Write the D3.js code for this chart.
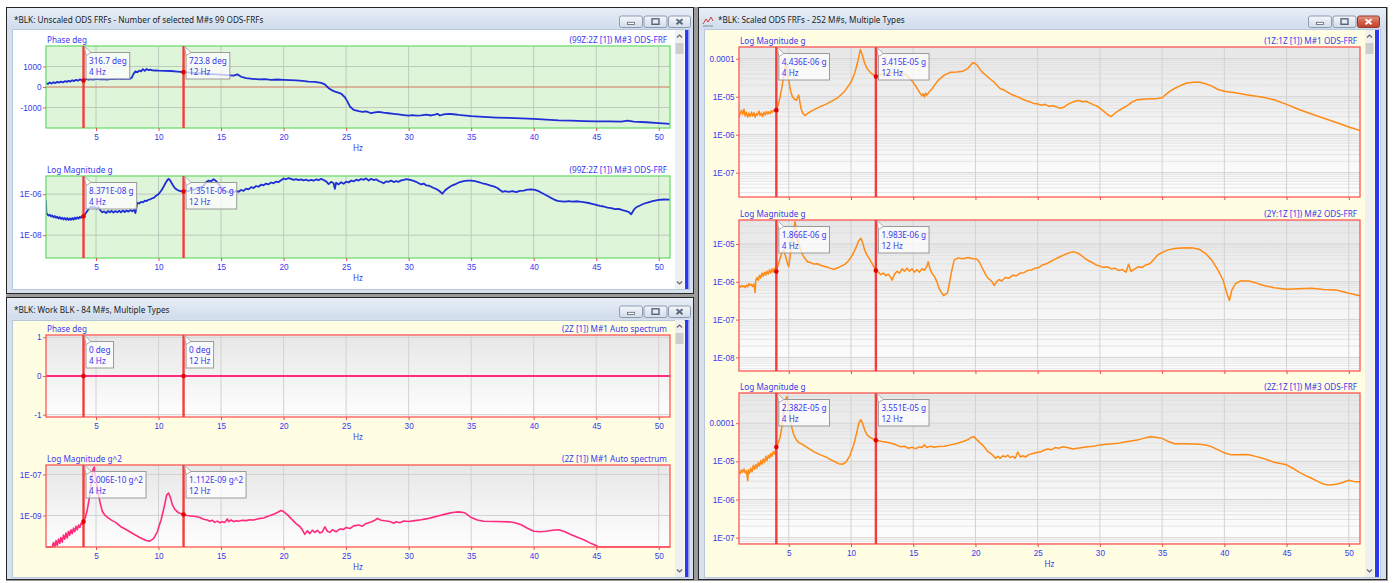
<!DOCTYPE html>
<html><head><meta charset="utf-8">
<script src="https://cdn.jsdelivr.net/npm/d3@7"></script>
<style>
body{margin:0;background:#fff;}
svg{display:block;font-family:"Noto Sans","Open Sans",sans-serif;}
</style></head><body>
<svg id="chart" width="1394" height="583"></svg>
<script>
// ---- data ----------------------------------------------------------
const HZ_RANGE = [1, 50.9];
const HZ_TICKS = [5, 10, 15, 20, 25, 30, 35, 40, 45, 50];
const CURSOR_HZ = [4, 12];

// Unscaled ODS-FRF (99Z:2Z), phase in degrees
const unscaledPhaseDeg = [[1,180],[1.15,150],[1.3,220],[1.45,170],[1.6,235],[1.75,190],[1.9,250],[2.05,215],[2.2,265],[2.35,225],[2.5,285],[2.65,250],[2.8,300],[2.95,265],[3.1,330],[3.25,290],[3.4,350],[3.55,310],[3.7,370],[3.85,335],[4,316.7],[4.2,390],[4.4,355],[4.6,380],[4.8,360],[5,395],[5.3,370],[5.6,390],[5.9,365],[6.2,400],[6.5,380],[6.8,405],[7.1,385],[7.4,400],[7.7,395],[7.85,450],[8,640],[8.15,760],[8.3,720],[8.45,800],[8.6,760],[8.75,870],[8.9,790],[9.05,880],[9.2,820],[9.35,850],[9.5,810],[9.75,805],[10,795],[10.5,790],[11,780],[11.5,755],[12,723.8],[12.5,700],[13,680],[13.5,660],[14,640],[14.5,620],[15,600],[15.5,580],[16,555],[16.3,620],[16.6,500],[17,430],[17.5,400],[18,370],[18.5,385],[19,350],[19.5,365],[20,350],[20.5,340],[21,320],[21.5,300],[22,265],[22.5,250],[23,200],[23.3,130],[23.6,-60],[24,-200],[24.3,-260],[24.6,-320],[24.9,-500],[25.1,-700],[25.3,-950],[25.6,-1120],[26,-1180],[26.3,-1210],[26.6,-1190],[27,-1280],[27.3,-1240],[27.6,-1210],[28,-1250],[28.4,-1280],[28.8,-1310],[29.2,-1340],[29.6,-1370],[30,-1400],[30.3,-1370],[30.6,-1400],[31,-1380],[31.4,-1350],[31.8,-1390],[32.1,-1350],[32.3,-1310],[32.5,-1390],[32.8,-1340],[33.2,-1310],[33.6,-1330],[34,-1360],[35,-1420],[36,-1460],[37,-1490],[38,-1510],[39,-1530],[40,-1550],[41,-1590],[42,-1630],[43,-1640],[44,-1660],[45,-1680],[46,-1680],[47,-1690],[47.5,-1640],[48,-1690],[49,-1720],[50,-1760],[50.9,-1800]];

// Unscaled ODS-FRF (99Z:2Z), magnitude in g
const unscaledLogMag = [[1,5.0e-7],[1.03,1.2e-7],[1.1,1.05e-7],[1.2,9.0e-8],[1.3,1.0e-7],[1.4,8.2e-8],[1.5,9.2e-8],[1.6,7.4e-8],[1.7,8.6e-8],[1.8,7.0e-8],[1.9,8.0e-8],[2,6.4e-8],[2.1,7.6e-8],[2.2,6.2e-8],[2.3,7.2e-8],[2.4,5.8e-8],[2.5,6.9e-8],[2.6,5.6e-8],[2.7,6.8e-8],[2.8,5.5e-8],[2.9,6.6e-8],[3,5.6e-8],[3.1,6.8e-8],[3.2,5.7e-8],[3.3,7.2e-8],[3.4,6.1e-8],[3.5,7.4e-8],[3.6,6.4e-8],[3.7,7.8e-8],[3.8,7.0e-8],[3.9,8.6e-8],[4,8.371e-8],[4.15,1.1e-7],[4.3,1.5e-7],[4.45,2.0e-7],[4.6,2.5e-7],[4.75,2.1e-7],[4.9,2.4e-7],[5.05,2.0e-7],[5.2,2.3e-7],[5.35,1.6e-7],[5.5,1.3e-7],[5.65,1.45e-7],[5.8,1.2e-7],[5.95,1.5e-7],[6.1,1.3e-7],[6.25,1.55e-7],[6.4,1.25e-7],[6.55,1.5e-7],[6.7,1.3e-7],[6.85,1.55e-7],[7,1.3e-7],[7.15,1.6e-7],[7.3,1.35e-7],[7.45,1.6e-7],[7.6,1.4e-7],[7.75,1.7e-7],[7.9,1.45e-7],[8.05,1.75e-7],[8.15,1.2e-7],[8.3,3.8e-7],[8.45,3.5e-7],[8.6,4.2e-7],[8.75,4.0e-7],[8.9,4.8e-7],[9.05,4.6e-7],[9.2,5.4e-7],[9.35,5.6e-7],[9.5,6.3e-7],[9.65,6.8e-7],[9.8,8.4e-7],[9.95,9.5e-7],[10.1,1.2e-6],[10.25,1.6e-6],[10.4,2.3e-6],[10.55,3.4e-6],[10.7,4.8e-6],[10.8,5.6e-6],[10.9,4.9e-6],[11,3.9e-6],[11.15,2.7e-6],[11.3,2.0e-6],[11.45,1.7e-6],[11.6,1.5e-6],[11.8,1.4e-6],[12,1.351e-6],[12.2,1.5e-6],[12.4,1.4e-6],[12.6,1.7e-6],[12.8,1.6e-6],[13,1.9e-6],[13.2,1.8e-6],[13.4,2.3e-6],[13.6,2.6e-6],[13.8,3.8e-6],[14,4.6e-6],[14.2,4.3e-6],[14.4,5.3e-6],[14.6,4.4e-6],[14.8,3.1e-6],[15,2.2e-6],[15.2,1.6e-6],[15.4,1.4e-6],[15.6,1.2e-6],[15.8,1.4e-6],[16,1.25e-6],[16.2,1.45e-6],[16.4,1.3e-6],[16.6,1.6e-6],[16.8,1.45e-6],[17,1.85e-6],[17.2,1.7e-6],[17.4,2.2e-6],[17.6,2.0e-6],[17.8,2.5e-6],[18,2.3e-6],[18.2,2.9e-6],[18.4,2.7e-6],[18.6,3.3e-6],[18.8,3.0e-6],[19,3.7e-6],[19.2,3.4e-6],[19.4,4.1e-6],[19.6,3.9e-6],[19.8,4.8e-6],[20,5.8e-6],[20.2,5.3e-6],[20.4,6.1e-6],[20.6,5.6e-6],[20.8,5.0e-6],[21,5.4e-6],[21.2,4.8e-6],[21.4,5.3e-6],[21.6,4.7e-6],[21.8,5.1e-6],[22,4.5e-6],[22.2,5.0e-6],[22.4,4.6e-6],[22.6,5.2e-6],[22.8,4.8e-6],[23,5.6e-6],[23.2,4.9e-6],[23.4,4.2e-6],[23.6,3.1e-6],[23.8,4.0e-6],[24,3.4e-6],[24.1,1.8e-6],[24.2,3.6e-6],[24.4,3.0e-6],[24.6,3.8e-6],[24.8,3.2e-6],[25,4.1e-6],[25.2,3.7e-6],[25.4,4.6e-6],[25.6,4.2e-6],[25.8,5.1e-6],[26,4.6e-6],[26.2,5.5e-6],[26.4,5.0e-6],[26.6,5.9e-6],[26.8,4.6e-6],[27,5.6e-6],[27.2,4.9e-6],[27.4,5.3e-6],[27.6,4.4e-6],[27.8,3.9e-6],[28,3.4e-6],[28.2,4.2e-6],[28.4,4.0e-6],[28.6,4.6e-6],[28.8,3.9e-6],[29,4.3e-6],[29.2,4.0e-6],[29.4,4.7e-6],[29.6,4.9e-6],[29.8,5.4e-6],[30,5.1e-6],[30.2,4.8e-6],[30.4,4.4e-6],[30.6,4.0e-6],[30.8,3.4e-6],[31,3.0e-6],[31.2,3.3e-6],[31.4,2.7e-6],[31.6,2.6e-6],[31.8,2.3e-6],[32,2.0e-6],[32.2,1.8e-6],[32.4,1.5e-6],[32.6,1.2e-6],[32.7,1.05e-6],[32.9,1.5e-6],[33.1,1.9e-6],[33.3,2.3e-6],[33.5,2.7e-6],[33.8,3.2e-6],[34.1,3.9e-6],[34.4,4.3e-6],[34.7,4.6e-6],[35,4.6e-6],[35.3,4.3e-6],[35.6,3.9e-6],[35.9,3.4e-6],[36.2,3.1e-6],[36.5,2.7e-6],[36.8,2.4e-6],[37.1,2.0e-6],[37.3,1.6e-6],[37.5,1.3e-6],[37.7,1.4e-6],[38,1.3e-6],[38.3,1.4e-6],[38.6,1.25e-6],[38.9,1.45e-6],[39.2,1.5e-6],[39.5,1.65e-6],[39.8,1.7e-6],[40.1,1.6e-6],[40.4,1.4e-6],[40.7,1.1e-6],[41,8.9e-7],[41.3,7.0e-7],[41.6,5.6e-7],[41.9,4.7e-7],[42.2,4.5e-7],[42.5,4.3e-7],[42.8,4.6e-7],[43.1,4.3e-7],[43.5,4.5e-7],[44,4.1e-7],[44.5,3.6e-7],[45,3.0e-7],[45.3,2.7e-7],[45.6,2.5e-7],[45.9,2.2e-7],[46.2,2.1e-7],[46.5,1.85e-7],[46.8,1.9e-7],[47.1,1.65e-7],[47.4,1.5e-7],[47.6,1.35e-7],[47.8,1.05e-7],[48,1.7e-7],[48.2,2.3e-7],[48.5,2.8e-7],[48.8,3.4e-7],[49.1,3.9e-7],[49.5,4.6e-7],[50,5.3e-7],[50.4,5.5e-7],[50.9,5.4e-7]];

// Auto spectrum (2Z), phase in degrees and magnitude in g^2
const autoPhaseDeg = [[1,0],[4,0],[12,0],[50.9,0]];
const autoLogMag = [[1,2.5e-11],[1.5,2.5e-11],[1.6,4.8e-11],[1.7,2.8e-11],[1.8,6.0e-11],[1.9,3.5e-11],[2,7.0e-11],[2.1,4.4e-11],[2.2,8.5e-11],[2.3,5.0e-11],[2.4,1.1e-10],[2.5,7.0e-11],[2.6,1.4e-10],[2.7,8.0e-11],[2.8,1.7e-10],[2.9,1.1e-10],[3,2.0e-10],[3.1,1.3e-10],[3.2,2.4e-10],[3.3,1.6e-10],[3.4,3.0e-10],[3.5,2.0e-10],[3.6,3.4e-10],[3.7,2.6e-10],[3.8,4.2e-10],[3.9,3.6e-10],[4,5.006e-10],[4.15,8.0e-10],[4.3,1.9e-9],[4.45,6.5e-9],[4.6,3.6e-8],[4.75,1.7e-7],[4.85,2.3e-7],[4.95,8.0e-8],[5.1,2.2e-8],[5.3,5.0e-9],[5.5,1.6e-9],[5.7,1.05e-9],[6,7.4e-10],[6.3,5.6e-10],[6.6,4.5e-10],[7,2.8e-10],[7.5,1.9e-10],[8,1.25e-10],[8.5,8.5e-11],[9,6.0e-11],[9.3,5.6e-11],[9.6,7.5e-11],[9.9,1.6e-10],[10.2,6.0e-10],[10.45,2.6e-9],[10.65,1.0e-8],[10.8,1.25e-8],[10.95,7.5e-9],[11.1,3.4e-9],[11.3,2.0e-9],[11.6,1.35e-9],[12,1.112e-9],[12.3,1.0e-9],[12.6,9.5e-10],[13,8.9e-10],[13.3,8.0e-10],[13.6,6.5e-10],[13.9,6.0e-10],[14.1,5.2e-10],[14.3,5.8e-10],[14.5,4.6e-10],[14.7,5.3e-10],[14.9,4.4e-10],[15.1,5.0e-10],[15.3,4.6e-10],[15.5,6.8e-10],[15.6,5.0e-10],[15.8,6.0e-10],[16,5.0e-10],[16.2,5.6e-10],[16.4,5.2e-10],[16.7,5.8e-10],[17,5.6e-10],[17.3,6.2e-10],[17.6,6.0e-10],[18,7.0e-10],[18.4,7.6e-10],[18.8,9.5e-10],[19.2,1.15e-9],[19.5,1.4e-9],[19.8,1.75e-9],[20,1.55e-9],[20.3,1.1e-9],[20.6,7.0e-10],[21,4.0e-10],[21.3,2.9e-10],[21.5,2.0e-10],[21.7,1.2e-10],[21.9,1.8e-10],[22.1,1.3e-10],[22.3,1.9e-10],[22.5,1.5e-10],[22.7,1.9e-10],[22.9,1.4e-10],[23.1,1.6e-10],[23.3,2.8e-10],[23.5,1.7e-10],[23.7,1.5e-10],[23.9,2.0e-10],[24.2,1.6e-10],[24.5,2.2e-10],[24.8,2.1e-10],[25,2.6e-10],[25.3,2.3e-10],[25.6,3.1e-10],[26,3.4e-10],[26.3,3.0e-10],[26.6,4.1e-10],[27,4.8e-10],[27.3,5.8e-10],[27.5,7.2e-10],[27.8,5.9e-10],[28.1,5.5e-10],[28.5,5.1e-10],[28.8,4.2e-10],[29,5.0e-10],[29.3,4.4e-10],[29.6,5.4e-10],[30,5.1e-10],[30.5,5.6e-10],[31,6.2e-10],[31.5,7.0e-10],[32,8.3e-10],[32.5,1.0e-9],[33,1.2e-9],[33.5,1.4e-9],[34,1.5e-9],[34.5,1.35e-9],[35,8.0e-10],[35.5,6.0e-10],[36,5.2e-10],[37,5.1e-10],[38,4.9e-10],[38.5,4.4e-10],[39,3.55e-10],[39.5,2.4e-10],[40,1.7e-10],[40.5,1.6e-10],[41,1.7e-10],[41.5,1.9e-10],[42,2.0e-10],[42.5,1.6e-10],[43,1.15e-10],[43.5,8.6e-11],[44,6.6e-11],[44.5,4.6e-11],[45,3.4e-11],[45.2,3e-12],[50.9,3e-12]];

// Scaled ODS-FRFs, magnitude in g
const scaledLogMag1Z = [[1,2.9e-6],[1.1,3.6e-6],[1.2,4.4e-6],[1.3,3.4e-6],[1.4,4.7e-6],[1.5,3.1e-6],[1.6,3.9e-6],[1.7,2.9e-6],[1.8,3.7e-6],[1.9,3.0e-6],[2,3.9e-6],[2.1,3.1e-6],[2.2,3.8e-6],[2.3,2.9e-6],[2.4,3.6e-6],[2.5,3.3e-6],[2.6,4.2e-6],[2.7,3.2e-6],[2.8,3.7e-6],[2.9,3.0e-6],[3,3.9e-6],[3.1,3.3e-6],[3.2,4.1e-6],[3.3,3.5e-6],[3.4,4.0e-6],[3.5,3.6e-6],[3.6,4.3e-6],[3.7,3.9e-6],[3.8,4.5e-6],[3.9,4.2e-6],[4,4.436e-6],[4.15,6.0e-6],[4.3,1.0e-5],[4.45,1.8e-5],[4.6,3.5e-5],[4.75,7.0e-5],[4.85,6.0e-5],[5,2.6e-5],[5.15,1.4e-5],[5.3,9.8e-6],[5.45,8.6e-6],[5.6,8.0e-6],[5.7,9.5e-6],[5.8,1.1e-5],[5.9,7.0e-6],[6,4.6e-6],[6.15,3.6e-6],[6.3,3.2e-6],[6.5,3.6e-6],[6.7,4.0e-6],[7,4.5e-6],[7.5,5.4e-6],[8,6.4e-6],[8.5,7.8e-6],[9,9.8e-6],[9.5,1.4e-5],[10,2.4e-5],[10.3,4.2e-5],[10.55,8.5e-5],[10.75,1.75e-4],[10.9,1.3e-4],[11.1,7.5e-5],[11.3,5.5e-5],[11.6,4.2e-5],[12,3.415e-5],[12.5,3.9e-5],[13,4.1e-5],[13.5,4.3e-5],[14,4.4e-5],[14.5,3.6e-5],[15,2.4e-5],[15.3,1.7e-5],[15.5,1.3e-5],[15.7,1.05e-5],[15.8,1.2e-5],[15.9,9.8e-6],[16,1.25e-5],[16.1,1.1e-5],[16.3,1.35e-5],[16.5,1.6e-5],[17,2.7e-5],[17.5,3.7e-5],[18,4.4e-5],[18.5,4.5e-5],[19,4.7e-5],[19.4,5.6e-5],[19.8,8.0e-5],[20.1,7.0e-5],[20.5,4.6e-5],[21,3.3e-5],[21.5,2.4e-5],[22,1.62e-5],[22.3,1.5e-5],[22.6,1.3e-5],[22.9,1.15e-5],[23.2,1.05e-5],[23.5,9.6e-6],[23.8,8.6e-6],[24.1,7.8e-6],[24.4,7.3e-6],[24.7,6.6e-6],[25,6.4e-6],[25.3,6.0e-6],[25.6,6.3e-6],[25.9,5.6e-6],[26.2,5.8e-6],[26.5,5.4e-6],[26.8,5.0e-6],[27.1,5.3e-6],[27.4,6.2e-6],[27.7,7.0e-6],[28,7.6e-6],[28.3,8.0e-6],[28.6,7.4e-6],[28.9,7.6e-6],[29.2,6.8e-6],[29.5,6.1e-6],[29.8,5.6e-6],[30.1,4.7e-6],[30.3,4.2e-6],[30.5,3.6e-6],[30.7,3.3e-6],[30.9,3.0e-6],[31.1,3.4e-6],[31.3,3.9e-6],[31.5,4.3e-6],[31.8,4.9e-6],[32.2,5.8e-6],[32.6,7.3e-6],[33,8.3e-6],[33.5,8.6e-6],[34,8.9e-6],[34.5,8.8e-6],[35,9.4e-6],[35.5,1.3e-5],[36,1.65e-5],[36.5,2.0e-5],[37,2.3e-5],[37.5,2.4e-5],[38,2.4e-5],[38.5,2.2e-5],[39,1.9e-5],[39.5,1.55e-5],[40,1.4e-5],[41,1.25e-5],[42,1.1e-5],[43,9.8e-6],[44,8.3e-6],[45,6.3e-6],[46,4.6e-6],[47,3.5e-6],[48,2.7e-6],[49,2.1e-6],[50,1.6e-6],[50.9,1.29e-6]];
const scaledLogMag2Y = [[1,7.8e-7],[1.1,7.2e-7],[1.2,8.0e-7],[1.3,7.4e-7],[1.4,7.9e-7],[1.5,7.0e-7],[1.6,8.2e-7],[1.7,7.4e-7],[1.8,9.0e-7],[1.9,8.0e-7],[2,8.6e-7],[2.1,7.5e-7],[2.2,8.8e-7],[2.3,5.2e-7],[2.35,1.1e-6],[2.45,1.3e-6],[2.55,1.1e-6],[2.65,1.5e-6],[2.75,1.25e-6],[2.85,1.7e-6],[2.95,1.4e-6],[3.05,1.8e-6],[3.15,1.5e-6],[3.25,1.9e-6],[3.35,1.6e-6],[3.45,2.1e-6],[3.55,1.7e-6],[3.65,2.2e-6],[3.75,1.8e-6],[3.85,2.3e-6],[4,1.866e-6],[4.15,2.8e-6],[4.3,4.2e-6],[4.45,6.0e-6],[4.6,6.9e-6],[4.75,4.6e-6],[4.9,3.0e-6],[5,2.5e-6],[5.1,4.5e-6],[5.2,8.9e-6],[5.3,1.6e-5],[5.4,2.6e-5],[5.5,3.9e-5],[5.6,2.4e-5],[5.7,1.4e-5],[5.8,1.0e-5],[6,6.4e-6],[6.2,4.6e-6],[6.5,3.4e-6],[6.8,3.2e-6],[7,2.95e-6],[7.3,3.0e-6],[7.6,2.7e-6],[8,2.5e-6],[8.3,2.3e-6],[8.6,2.15e-6],[9,2.4e-6],[9.5,2.9e-6],[9.8,3.6e-6],[10.1,5.0e-6],[10.4,8.0e-6],[10.6,1.2e-5],[10.8,1.41e-5],[10.95,1.05e-5],[11.1,6.9e-6],[11.3,5.0e-6],[11.5,4.0e-6],[11.75,2.8e-6],[12,1.983e-6],[12.2,1.8e-6],[12.4,1.55e-6],[12.6,1.7e-6],[12.8,1.45e-6],[13,1.6e-6],[13.2,1.3e-6],[13.3,1.1e-6],[13.5,1.6e-6],[13.7,1.9e-6],[13.9,1.7e-6],[14.1,2.2e-6],[14.3,1.9e-6],[14.5,2.3e-6],[14.7,1.9e-6],[14.9,2.2e-6],[15.1,1.8e-6],[15.3,2.1e-6],[15.5,1.8e-6],[15.7,2.2e-6],[15.9,2.0e-6],[16.1,2.6e-6],[16.2,3.4e-6],[16.35,2.2e-6],[16.5,1.7e-6],[16.7,1.4e-6],[16.9,1.0e-6],[17.1,6.5e-7],[17.3,5.0e-7],[17.45,4.3e-7],[17.6,4.8e-7],[17.75,5.0e-7],[17.9,9e-7],[18.1,2.0e-6],[18.3,3.8e-6],[18.6,4.3e-6],[19,4.1e-6],[19.4,4.4e-6],[19.8,4.1e-6],[20.1,4.0e-6],[20.3,3.4e-6],[20.5,2.5e-6],[20.8,1.6e-6],[21,1.25e-6],[21.3,1.05e-6],[21.5,8.0e-7],[21.7,1.0e-6],[21.9,1.15e-6],[22.1,1.05e-6],[22.4,1.3e-6],[22.7,1.25e-6],[23,1.5e-6],[23.3,1.45e-6],[23.6,1.7e-6],[23.9,1.75e-6],[24.2,2.0e-6],[24.5,2.05e-6],[24.8,2.3e-6],[25.1,2.4e-6],[25.4,2.8e-6],[25.7,3.0e-6],[26,3.4e-6],[26.4,4.0e-6],[26.8,4.6e-6],[27.2,5.3e-6],[27.6,6.0e-6],[27.9,6.2e-6],[28.2,5.8e-6],[28.5,5.0e-6],[28.8,4.2e-6],[29.1,3.6e-6],[29.4,3.2e-6],[29.7,2.8e-6],[30,2.6e-6],[30.3,2.4e-6],[30.6,2.5e-6],[30.9,2.2e-6],[31.2,2.3e-6],[31.5,2.0e-6],[31.8,2.1e-6],[32.1,1.8e-6],[32.3,2.9e-6],[32.5,1.9e-6],[32.8,2.2e-6],[33.1,2.5e-6],[33.4,2.4e-6],[33.7,2.8e-6],[34,3.0e-6],[34.3,3.8e-6],[34.6,5.0e-6],[35,6.0e-6],[35.5,7.0e-6],[36,7.6e-6],[36.5,7.9e-6],[37,8.0e-6],[37.5,7.8e-6],[38,7.2e-6],[38.5,5.6e-6],[39,3.7e-6],[39.5,2.0e-6],[39.9,1.1e-6],[40.2,5.0e-7],[40.4,3.2e-7],[40.6,6.0e-7],[40.9,9.0e-7],[41.3,1.05e-6],[42,1.05e-6],[42.5,9.5e-7],[43,8.2e-7],[44,7.0e-7],[45,6.4e-7],[46,6.6e-7],[47,6.8e-7],[48,6.3e-7],[49,6.1e-7],[50,5.0e-7],[50.9,4.3e-7]];
const scaledLogMag2Z = [[1,5.4e-6],[1.1,4.8e-6],[1.2,6.0e-6],[1.3,5.2e-6],[1.4,6.3e-6],[1.5,5.0e-6],[1.6,5.6e-6],[1.7,3.1e-6],[1.75,6.0e-6],[1.85,4.9e-6],[1.95,6.6e-6],[2.05,5.3e-6],[2.15,7.9e-6],[2.25,6.2e-6],[2.35,8.3e-6],[2.45,6.7e-6],[2.55,9.2e-6],[2.65,7.6e-6],[2.75,1.05e-5],[2.85,8.4e-6],[2.95,1.15e-5],[3.05,9.3e-6],[3.15,1.35e-5],[3.25,1.05e-5],[3.35,1.45e-5],[3.45,1.2e-5],[3.55,1.6e-5],[3.65,1.35e-5],[3.75,1.8e-5],[3.85,1.55e-5],[4,2.382e-5],[4.15,3.0e-5],[4.3,4.3e-5],[4.45,8.0e-5],[4.6,2.0e-4],[4.75,4.2e-4],[4.85,5.0e-4],[4.95,3.3e-4],[5.1,1.5e-4],[5.25,7.5e-5],[5.4,5.0e-5],[5.6,3.7e-5],[5.8,3.1e-5],[6,2.9e-5],[6.5,2.3e-5],[7,1.8e-5],[7.5,1.5e-5],[8,1.29e-5],[8.5,1.05e-5],[9,8.7e-6],[9.3,8.4e-6],[9.6,9.6e-6],[9.9,1.4e-5],[10.2,2.6e-5],[10.45,5.5e-5],[10.65,1.05e-4],[10.8,1.23e-4],[10.95,9.5e-5],[11.1,6.6e-5],[11.3,4.9e-5],[11.5,4.3e-5],[11.75,3.9e-5],[12,3.551e-5],[12.5,3.3e-5],[13,3.1e-5],[13.5,2.8e-5],[14,2.4e-5],[14.3,2.5e-5],[14.6,2.2e-5],[14.9,2.35e-5],[15.2,2.15e-5],[15.5,2.4e-5],[15.7,2.3e-5],[15.9,2.7e-5],[16.1,2.3e-5],[16.4,2.5e-5],[16.7,2.35e-5],[17,2.45e-5],[17.5,2.5e-5],[18,2.7e-5],[18.5,2.95e-5],[19,3.3e-5],[19.4,3.7e-5],[19.7,4.3e-5],[19.9,4.4e-5],[20.1,3.7e-5],[20.4,3.0e-5],[20.7,2.4e-5],[21,1.8e-5],[21.3,1.55e-5],[21.6,1.2e-5],[21.8,1.35e-5],[22,1.2e-5],[22.2,1.4e-5],[22.4,1.3e-5],[22.6,1.45e-5],[22.8,1.25e-5],[23,1.35e-5],[23.2,1.2e-5],[23.4,1.75e-5],[23.6,1.3e-5],[23.8,1.4e-5],[24,1.3e-5],[24.3,1.5e-5],[24.6,1.6e-5],[24.9,1.7e-5],[25.2,1.75e-5],[25.5,1.95e-5],[25.8,2.1e-5],[26.1,2.0e-5],[26.4,2.3e-5],[26.7,2.2e-5],[27,2.4e-5],[27.4,2.3e-5],[27.8,2.1e-5],[28.2,2.2e-5],[28.6,2.3e-5],[29,2.4e-5],[29.5,2.5e-5],[30,2.7e-5],[30.5,2.8e-5],[31,2.9e-5],[31.5,3.0e-5],[32,3.2e-5],[32.5,3.4e-5],[33,3.6e-5],[33.5,4.0e-5],[34,4.4e-5],[34.5,4.3e-5],[35,4.0e-5],[35.5,3.3e-5],[36,2.9e-5],[36.5,2.9e-5],[37,2.9e-5],[37.5,2.85e-5],[38,2.8e-5],[38.5,2.7e-5],[39,2.4e-5],[39.5,2.0e-5],[40,1.66e-5],[40.5,1.5e-5],[41,1.5e-5],[41.5,1.52e-5],[42,1.48e-5],[42.5,1.35e-5],[43,1.23e-5],[43.5,1.08e-5],[44,9.5e-6],[44.5,8.8e-6],[45,8.1e-6],[45.5,6.6e-6],[46,5.2e-6],[46.5,4.3e-6],[47,3.6e-6],[47.5,3.0e-6],[48,2.5e-6],[48.5,2.4e-6],[49,2.5e-6],[49.5,2.8e-6],[50,3.2e-6],[50.5,2.9e-6],[50.9,2.9e-6]];

// axis ticks
const phaseTicksUnscaled = [-1000, 0, 1000];
const phaseTicksAuto = [-1, 0, 1];
const logTicksUnscaled = [1e-6, 1e-8];
const logTicksAuto = [1e-7, 1e-9];
const logTicks1Z = [1e-4, 1e-5, 1e-6, 1e-7];
const logTicks2Y = [1e-5, 1e-6, 1e-7, 1e-8];
const logTicks2Z = [1e-4, 1e-5, 1e-6, 1e-7];

// cursor readouts (value text at 4 Hz and 12 Hz)
const unscaledPhaseReadout = ["316.7 deg", "723.8 deg"];
const unscaledMagReadout = ["8.371E-08 g", "1.351E-06 g"];
const autoPhaseReadout = ["0 deg", "0 deg"];
const autoMagReadout = ["5.006E-10 g^2", "1.112E-09 g^2"];
const scaled1ZReadout = ["4.436E-06 g", "3.415E-05 g"];
const scaled2YReadout = ["1.866E-06 g", "1.983E-06 g"];
const scaled2ZReadout = ["2.382E-05 g", "3.551E-05 g"];

// ---- drawing -------------------------------------------------------
const svg = d3.select('#chart');
const defs = svg.append('defs');
const TEXT_BLUE = '#3838f0';
const FS = 8.2;

function gradient(id, stops) {
  const g = defs.append('linearGradient').attr('id', id).attr('x1', 0).attr('y1', 0).attr('x2', 0).attr('y2', 1);
  stops.forEach(s => g.append('stop').attr('offset', s[0]).attr('stop-color', s[1]));
}
gradient('titleBar', [['0%', '#e7eef7'], ['100%', '#d0dcec']]);
gradient('plotGray', [['0%', '#e7e7e7'], ['100%', '#fefefe']]);
gradient('btnFace', [['0%', '#f5f8fc'], ['100%', '#d2dbe7']]);
gradient('btnClose', [['0%', '#e59684'], ['55%', '#cf5a43'], ['100%', '#c0432d']]);

svg.append('rect').attr('width', 1394).attr('height', 583).attr('fill', '#ffffff');
svg.append('rect').attr('x', 6).attr('y', 7).attr('width', 1382).attr('height', 574).attr('fill', '#9b9b9b');

function drawWindow(o) {
  const g = svg.append('g');
  g.append('rect').attr('x', o.x).attr('y', o.y).attr('width', o.w).attr('height', o.h).attr('fill', '#d7e1ee');
  g.append('rect').attr('x', o.x + 1).attr('y', o.y + 1).attr('width', o.w - 2).attr('height', 21).attr('fill', 'url(#titleBar)');
  const c = o.content;
  g.append('rect').attr('x', c[0] + 0.5).attr('y', c[1] + 0.5).attr('width', c[2]).attr('height', c[3])
    .attr('fill', o.bg).attr('stroke', '#b8c8dc');
  g.append('rect').attr('x', o.x + 0.5).attr('y', o.y + 0.5).attr('width', o.w - 1).attr('height', o.h - 1)
    .attr('fill', 'none').attr('stroke', '#262626');
  let tx = o.x + 8;
  if (o.icon) {
    const ix = o.x + 5, iy = o.y + 9;
    g.append('path').attr('d', `M${ix},${iy + 8}L${ix + 3},${iy + 3}L${ix + 5},${iy + 6}L${ix + 8},${iy + 1}L${ix + 10},${iy + 5}`)
      .attr('fill', 'none').attr('stroke', '#d04040').attr('stroke-width', 1);
    g.append('path').attr('d', `M${ix},${iy + 10}H${ix + 10}`).attr('stroke', '#7a8aa0');
    tx = o.x + 20;
  }
  g.append('text').attr('x', tx).attr('y', o.y + 16).text(o.title)
    .attr('fill', '#1c1c1c').style('font-size', FS + 'px');
  // caption buttons
  const bx = o.btnX, by = o.y + 8.5;
  [0, 1, 2].forEach(i => {
    const x = bx + i * 24.5, w = i === 2 ? 22 : 23;
    const close = i === 2 && o.active;
    g.append('rect').attr('x', x + 0.5).attr('y', by + 0.5).attr('width', w).attr('height', 11.5).attr('rx', 2)
      .attr('fill', close ? 'url(#btnClose)' : 'url(#btnFace)').attr('stroke', close ? '#8f3a2c' : '#8d9bb0');
    const cx = x + w / 2 + 0.5, cy = by + 6.3;
    if (i === 0) g.append('rect').attr('x', cx - 3.5).attr('y', cy + 0.5).attr('width', 7).attr('height', 2.2).attr('fill', '#fff').attr('stroke', '#56657a').attr('stroke-width', 0.8);
    if (i === 1) g.append('rect').attr('x', cx - 3.5).attr('y', cy - 3).attr('width', 7).attr('height', 5.5).attr('fill', 'none').attr('stroke', '#56657a').attr('stroke-width', 1.4);
    if (i === 2) {
      g.append('path').attr('d', `M${cx - 3},${cy - 2.5}L${cx + 3},${cy + 2.5}M${cx + 3},${cy - 2.5}L${cx - 3},${cy + 2.5}`)
        .attr('stroke', close ? '#ffffff' : '#56657a').attr('stroke-width', 1.8);
    }
  });
  // vertical scrollbar
  const s = o.scroll;
  g.append('rect').attr('x', s.x).attr('y', s.y0).attr('width', 9).attr('height', s.y1 - s.y0).attr('fill', '#f0f0f0');
  const sc = s.x + 4.5;
  g.append('path').attr('d', `M${sc - 2.5},${s.y0 + 7.5}L${sc},${s.y0 + 5}L${sc + 2.5},${s.y0 + 7.5}`).attr('fill', 'none').attr('stroke', '#666').attr('stroke-width', 1.2);
  g.append('rect').attr('x', s.x + 0.5).attr('y', s.y0 + 13).attr('width', 8).attr('height', 11).attr('fill', '#cdcdcd');
  g.append('path').attr('d', `M${sc - 2.5},${s.y1 - 7.5}L${sc},${s.y1 - 5}L${sc + 2.5},${s.y1 - 7.5}`).attr('fill', 'none').attr('stroke', '#666').attr('stroke-width', 1.2);
  g.append('rect').attr('x', o.strip[0]).attr('y', s.y0).attr('width', o.strip[1]).attr('height', s.y1 - s.y0).attr('fill', '#2b37f2');
}

drawWindow({x: 6, y: 7, w: 688, h: 287, title: '*BLK: Unscaled ODS FRFs - Number of selected M#s 99 ODS-FRFs',
  bg: '#ffffff', content: [12, 29, 677, 260], btnX: 619, scroll: {x: 675, y0: 30, y1: 289}, strip: [685, 3.5], active: false});
drawWindow({x: 6, y: 297, w: 688, h: 283, title: '*BLK: Work BLK - 84 M#s, Multiple Types',
  bg: '#fffde2', content: [12, 320, 677, 257], btnX: 619, scroll: {x: 675, y0: 320, y1: 577}, strip: [685, 3.5], active: false});
drawWindow({x: 698, y: 7, w: 689, h: 573, title: '*BLK: Scaled ODS FRFs - 252 M#s, Multiple Types', icon: true,
  bg: '#fffde2', content: [704, 29, 676, 548], btnX: 1308, scroll: {x: 1365, y0: 30, y1: 577}, strip: [1375, 4], active: true});

function logFmt(v) {
  const e = Math.round(Math.log10(v));
  if (e >= -4) return v.toFixed(-e);
  return '1E-' + String(-e).padStart(2, '0');
}

let clipId = 0;
function drawPanel(p) {
  const x = d3.scaleLinear().domain(HZ_RANGE).range([p.x0, p.x1]);
  const y = (p.log ? d3.scaleLog() : d3.scaleLinear()).domain(p.yDomain).range([p.y1, p.y0]).clamp(true);
  const g = svg.append('g');
  const W = p.x1 - p.x0, H = p.y1 - p.y0;
  g.append('rect').attr('x', p.x0).attr('y', p.y0).attr('width', W).attr('height', H)
    .attr('fill', p.green ? '#def5da' : 'url(#plotGray)');
  const gridCol = p.green ? '#bccbbc' : '#d2d2d2';
  // minor log grid
  if (p.minor) {
    const lo = Math.floor(Math.log10(p.yDomain[0])), hi = Math.ceil(Math.log10(p.yDomain[1]));
    for (let e = lo; e <= hi; e++) for (let m = 2; m <= 9; m++) {
      const v = m * Math.pow(10, e);
      if (v > p.yDomain[0] && v < p.yDomain[1])
        g.append('line').attr('x1', p.x0).attr('x2', p.x1).attr('y1', y(v)).attr('y2', y(v)).attr('stroke', '#dedede').attr('stroke-width', 0.8);
    }
  }
  HZ_TICKS.forEach(t => g.append('line').attr('x1', x(t)).attr('x2', x(t)).attr('y1', p.y0).attr('y2', p.y1).attr('stroke', gridCol).attr('stroke-width', 1));
  p.yTicks.forEach(t => {
    if (!p.log && t === 0) return;
    g.append('line').attr('x1', p.x0).attr('x2', p.x1).attr('y1', y(t)).attr('y2', y(t)).attr('stroke', gridCol).attr('stroke-width', 1);
  });
  if (p.zeroLine) g.append('line').attr('x1', p.x0).attr('x2', p.x1).attr('y1', y(0)).attr('y2', y(0)).attr('stroke', '#d2735c').attr('stroke-width', 1);

  const id = 'clip' + (clipId++);
  defs.append('clipPath').attr('id', id).append('rect').attr('x', p.x0).attr('y', p.y0 - 1).attr('width', W).attr('height', H + 2);
  const line = d3.line().x(d => x(d[0])).y(d => y(d[1]));
  g.append('path').datum(p.data).attr('d', line).attr('clip-path', `url(#${id})`)
    .attr('fill', 'none').attr('stroke', p.color).attr('stroke-width', p.lw).attr('stroke-linejoin', 'round');

  g.append('rect').attr('x', p.x0).attr('y', p.y0).attr('width', W).attr('height', H)
    .attr('fill', 'none').attr('stroke', p.green ? '#6fdc6f' : '#ff5656').attr('stroke-width', 1.3);

  // y axis
  const ya = g.append('g').attr('transform', `translate(${p.x0},0)`)
    .call(d3.axisLeft(y).tickValues(p.yTicks).tickFormat(p.fmt).tickSize(3).tickPadding(1.5));
  ya.select('.domain').remove();
  ya.selectAll('line').attr('stroke', '#e06060');
  ya.selectAll('text').attr('fill', TEXT_BLUE).style('font-size', FS + 'px').style('font-family', 'inherit');
  // x axis
  const xa = g.append('g').attr('transform', `translate(0,${p.y1})`)
    .call(d3.axisBottom(x).tickValues(HZ_TICKS).tickSize(3).tickFormat(p.xLabels ? d3.format('d') : ''));
  xa.select('.domain').remove();
  xa.selectAll('line').attr('stroke', '#f04848');
  xa.selectAll('text').attr('fill', TEXT_BLUE).attr('y', 9.5).attr('dy', '0.35em').style('font-size', FS + 'px').style('font-family', 'inherit');
  if (p.xLabels) g.append('text').attr('x', (p.x0 + p.x1) / 2).attr('y', p.y1 + 20).attr('dy', '0.35em')
    .attr('text-anchor', 'middle').attr('fill', TEXT_BLUE).style('font-size', FS + 'px').text('Hz');

  g.append('text').attr('x', p.x0 + 1).attr('y', p.y0 - 3.5).attr('fill', TEXT_BLUE).style('font-size', FS + 'px').text(p.title);
  g.append('text').attr('x', p.x1 - 3).attr('y', p.y0 - 3.5).attr('text-anchor', 'end').attr('fill', TEXT_BLUE).style('font-size', FS + 'px').text(p.header);

  // cursors with readouts
  CURSOR_HZ.forEach((hz, i) => {
    const xc = x(hz);
    const pt = p.data.find(d => d[0] === hz);
    g.append('line').attr('x1', xc).attr('x2', xc).attr('y1', p.y0).attr('y2', p.y1).attr('stroke', '#f43c3c').attr('stroke-width', 2.4);
    g.append('circle').attr('cx', xc).attr('cy', y(pt[1])).attr('r', 2.3).attr('fill', '#e40000');
    const bx = xc + 2.5, by = p.y0 + 6.5;
    const box = g.append('g');
    const t1 = box.append('text').attr('x', bx + 3).attr('y', by + 8.7).attr('dy', '0.35em').attr('fill', TEXT_BLUE).style('font-size', FS + 'px').text(p.readout[i]);
    box.append('text').attr('x', bx + 3).attr('y', by + 19.5).attr('dy', '0.35em').attr('fill', TEXT_BLUE).style('font-size', FS + 'px').text(hz + ' Hz');
    const bw = t1.node().getComputedTextLength() + 6;
    box.insert('rect', 'text').attr('x', bx).attr('y', by).attr('width', bw).attr('height', 26.5)
      .attr('fill', 'rgba(255,255,255,0.72)').attr('stroke', '#9a9a9a').attr('stroke-width', 1);
    box.insert('path', 'text').attr('d', `M${xc + 1},${p.y0 + 0.5}L${bx + 5},${by}L${bx},${by + 3}Z`)
      .attr('fill', '#ffffff').attr('stroke', '#9a9a9a').attr('stroke-width', 0.8);
  });
}

const BLUE_CURVE = '#1f2ed6', PINK_CURVE = '#ff2a7c', ORANGE_CURVE = '#ff8a14';
const intFmt = d => String(d);

drawPanel({x0: 46, x1: 670, y0: 46, y1: 128, green: true, yDomain: [-2000, 2000], yTicks: phaseTicksUnscaled, fmt: intFmt,
  zeroLine: true, title: 'Phase deg', header: '(99Z:2Z [1]) M#3 ODS-FRF', data: unscaledPhaseDeg, color: BLUE_CURVE, lw: 1.8,
  readout: unscaledPhaseReadout, xLabels: true});
drawPanel({x0: 46, x1: 670, y0: 176, y1: 258, green: true, log: true, yDomain: [7.69e-10, 7.69e-6], yTicks: logTicksUnscaled, fmt: logFmt,
  title: 'Log Magnitude g', header: '(99Z:2Z [1]) M#3 ODS-FRF', data: unscaledLogMag, color: BLUE_CURVE, lw: 1.8,
  readout: unscaledMagReadout, xLabels: true});
drawPanel({x0: 46, x1: 670, y0: 335, y1: 417, yDomain: [-1.06, 1.06], yTicks: phaseTicksAuto, fmt: intFmt,
  title: 'Phase deg', header: '(2Z [1]) M#1 Auto spectrum', data: autoPhaseDeg, color: PINK_CURVE, lw: 2,
  readout: autoPhaseReadout, xLabels: true});
drawPanel({x0: 46, x1: 670, y0: 465, y1: 547, log: true, yDomain: [2.9e-11, 2.9e-7], yTicks: logTicksAuto, fmt: logFmt,
  title: 'Log Magnitude g^2', header: '(2Z [1]) M#1 Auto spectrum', data: autoLogMag, color: PINK_CURVE, lw: 1.6,
  readout: autoMagReadout, xLabels: true});
drawPanel({x0: 739, x1: 1360, y0: 47, y1: 197, log: true, minor: true, yDomain: [2.29e-8, 2.04e-4], yTicks: logTicks1Z, fmt: logFmt,
  title: 'Log Magnitude g', header: '(1Z:1Z [1]) M#1 ODS-FRF', data: scaledLogMag1Z, color: ORANGE_CURVE, lw: 1.5,
  readout: scaled1ZReadout, xLabels: false});
drawPanel({x0: 739, x1: 1360, y0: 220, y1: 371, log: true, minor: true, yDomain: [4.37e-9, 4.32e-5], yTicks: logTicks2Y, fmt: logFmt,
  title: 'Log Magnitude g', header: '(2Y:1Z [1]) M#2 ODS-FRF', data: scaledLogMag2Y, color: ORANGE_CURVE, lw: 1.5,
  readout: scaled2YReadout, xLabels: false});
drawPanel({x0: 739, x1: 1360, y0: 393, y1: 544, log: true, minor: true, yDomain: [6.84e-8, 6.17e-4], yTicks: logTicks2Z, fmt: logFmt,
  title: 'Log Magnitude g', header: '(2Z:1Z [1]) M#3 ODS-FRF', data: scaledLogMag2Z, color: ORANGE_CURVE, lw: 1.5,
  readout: scaled2ZReadout, xLabels: true});
</script>
</body></html>
